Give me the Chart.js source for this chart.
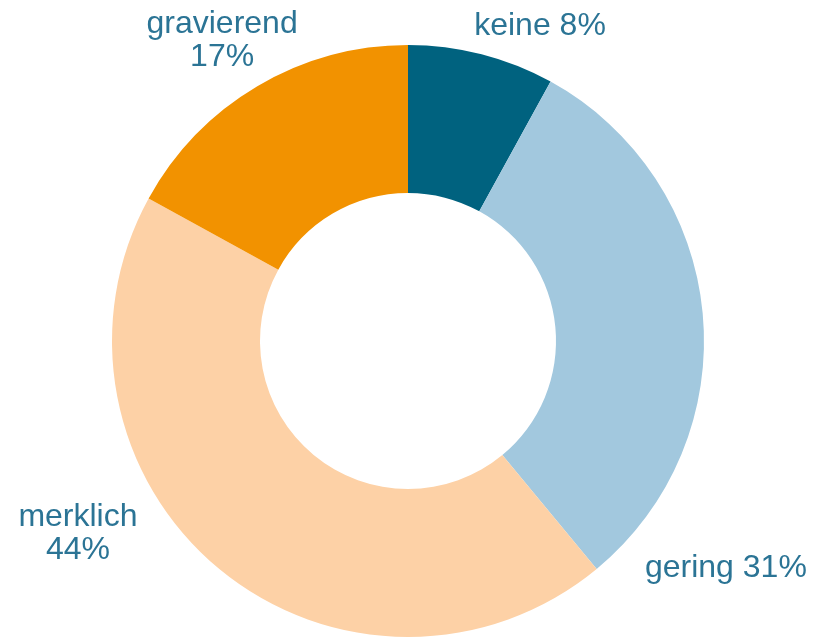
<!DOCTYPE html>
<html>
<head>
<meta charset="utf-8">
<script src="https://cdn.jsdelivr.net/npm/chart.js@4"></script>
<style>
  html, body { margin: 0; padding: 0; background: #fff; overflow: hidden; }
  #wrap { width: 816px; height: 637px; position: relative; }
</style>
</head>
<body>
<div id="wrap"><canvas id="ring"></canvas></div>
<script>
const labels = ['keine', 'gering', 'merklich', 'gravierend'];
const shares = [8, 31, 44, 17];
const colours = ['#00627f', '#a2c8de', '#fdd1a6', '#f29200'];

// where each label's first baseline sits, in units of the outer radius from the centre
const labelSpots = [
  { dx: 0.446, dy: -1.034, split: false },
  { dx: 1.074, dy: 0.797, split: false },
  { dx: -1.115, dy: 0.625, split: true },
  { dx: -0.628, dy: -1.041, split: true }
];

const sliceLabels = {
  id: 'sliceLabels',
  afterDatasetsDraw(chart) {
    const ctx = chart.ctx;
    const arcs = chart.getDatasetMeta(0).data;
    ctx.save();
    ctx.fillStyle = '#2b7495';
    ctx.font = '32px "Liberation Sans", Arial, sans-serif';
    ctx.textAlign = 'center';
    ctx.textBaseline = 'alphabetic';
    arcs.forEach((arc, i) => {
      const spot = labelSpots[i];
      const r = arc.outerRadius;
      const x = arc.x + spot.dx * r;
      const y = arc.y + spot.dy * r;
      const lines = spot.split
        ? [labels[i], shares[i] + '%']
        : [labels[i] + ' ' + shares[i] + '%'];
      lines.forEach((t, k) => ctx.fillText(t, x, y + k * 33));
    });
    ctx.restore();
  }
};

new Chart(document.getElementById('ring'), {
  type: 'doughnut',
  data: {
    labels: labels,
    datasets: [{
      data: shares,
      backgroundColor: colours,
      borderWidth: 0
    }]
  },
  options: {
    responsive: true,
    maintainAspectRatio: false,
    animation: false,
    cutout: '50%',
    layout: { padding: { top: 45, bottom: 0, left: 0, right: 0 } },
    plugins: {
      legend: { display: false },
      tooltip: { enabled: false }
    }
  },
  plugins: [sliceLabels]
});
</script>
</body>
</html>
